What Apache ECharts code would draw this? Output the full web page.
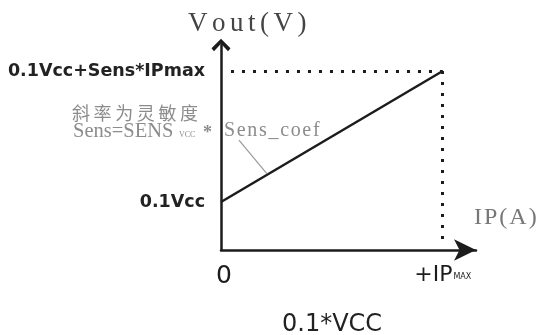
<!DOCTYPE html>
<html>
<head>
<meta charset="utf-8">
<script src="https://cdn.jsdelivr.net/npm/echarts@6/dist/echarts.min.js"></script>
<style>html,body{margin:0;padding:0;background:#fff}#c{width:545px;height:335px}</style>
</head>
<body>
<div id="c"></div>
<script>
// ---- data (normalised units: IP in units of IPmax, Vout relative to top level) ----
const ipValues = [0, 1];
const voutValues = [0.268, 1];
const xTickValues = [0, 1];
const xTickLabels = ['{z|0}', '+IP{s|MAX}'];
const yTickValues = [0.268, 1];
const yTickLabels = ['0.1Vcc', '0.1Vcc+Sens*IPmax'];
const guideHoriz = [[0.045, 1], [1, 1]];
const guideVert = [[1, 1], [1, 0.056]];
const pointerLine = [[0.081, 0.614], [0.2075, 0.425]];
const xMax = 1.15;
const yMax = 1.145;

const chevron = 'path://M9.5,0 L19,9.5 L16.5,12.5 L9.5,5 L2.5,12.5 L0,9.5 Z';
const hs = '\u200A';

const chart = echarts.init(document.getElementById('c'));
chart.setOption({
  animation: false,
  backgroundColor: '#fff',
  title: {
    text: '0.1*VCC', left: 277, top: 308,
    textStyle: { fontFamily: 'DejaVu Sans', fontSize: 24, fontWeight: 'normal', color: '#222' }
  },
  grid: { left: 221, right: 69, top: 45, bottom: 85, containLabel: false, outerBoundsMode: 'none' },
  xAxis: {
    type: 'value', min: 0, max: xMax,
    splitLine: { show: false },
    axisTick: { show: false },
    axisLine: { lineStyle: { color: '#1c1c1c', width: 2.5 }, symbol: ['none', 'arrow'], symbolSize: [16, 22], onZero: false },
    axisLabel: {
      customValues: xTickValues,
      formatter: function (v) { return xTickLabels[xTickValues.indexOf(v)]; },
      margin: 14,
      fontFamily: 'DejaVu Sans', fontSize: 22, color: '#1c1c1c',
      rich: {
        z: { fontFamily: 'DejaVu Sans', fontSize: 25, color: '#1c1c1c', padding: [0, 0, 0, 6] },
        s: { fontFamily: 'DejaVu Sans', fontSize: 8, color: '#1c1c1c', verticalAlign: 'bottom', padding: [0, 0, 5, 1] }
      }
    }
  },
  yAxis: {
    type: 'value', min: 0, max: yMax,
    splitLine: { show: false },
    axisTick: { show: false },
    axisLine: { show: true, lineStyle: { color: '#1c1c1c', width: 2.5 }, symbol: ['none', chevron], symbolSize: [19, 13], onZero: false },
    axisLabel: {
      customValues: yTickValues,
      formatter: function (v) { return yTickLabels[yTickValues.indexOf(v)]; },
      margin: 16,
      fontFamily: 'DejaVu Sans', fontWeight: 'bold', fontSize: 17.5, color: '#222'
    }
  },
  series: [
    {
      type: 'line',
      data: ipValues.map((x, i) => [x, voutValues[i]]),
      symbol: 'none',
      lineStyle: { color: '#1c1c1c', width: 2.5 },
      markLine: {
        silent: true, symbol: 'none', label: { show: false },
        lineStyle: { color: '#1c1c1c', width: 3, type: [3, 8], cap: 'butt' },
        data: [
          [{ coord: guideHoriz[0] }, { coord: guideHoriz[1] }],
          [{ coord: guideVert[0] }, { coord: guideVert[1] }]
        ]
      }
    },
    {
      type: 'line', data: [], symbol: 'none',
      markLine: {
        silent: true, symbol: 'none', label: { show: false },
        lineStyle: { color: '#9a9a9a', width: 1.2, type: 'solid' },
        data: [[{ coord: pointerLine[0] }, { coord: pointerLine[1] }]]
      }
    }
  ],
  graphic: [
    { type: 'text', left: 188, top: 10, style: { text: ['V','o','u','t','(','V',')'].join(hs + hs), font: '27px "Liberation Serif"', fill: '#444' } },
    { type: 'text', left: 474, top: 206, style: { text: ['I','P','(','A',')'].join(hs), font: '24px "Liberation Serif"', fill: '#777' } },
    { type: 'text', left: 72, top: 104, style: { text: '斜\u2009率\u2009为\u2009灵\u2009敏\u2009度', font: '18px "Noto Sans CJK SC"', fill: '#8c8c8c' } },
    { type: 'text', left: 73, top: 121, style: { text: 'Sens=SENS', font: '20.5px "Liberation Serif"', fill: '#8c8c8c' } },
    { type: 'text', left: 179, top: 131, style: { text: 'VCC', font: '8px "Liberation Serif"', fill: '#8c8c8c' } },
    { type: 'text', left: 203, top: 124, style: { text: '*', font: 'bold 18px "Liberation Serif"', fill: '#8c8c8c' } },
    { type: 'text', left: 224, top: 121, style: { text: ['S','e','n','s','_','c','o','e','f'].join(hs), font: '20px "Liberation Serif"', fill: '#8c8c8c' } }
  ]
});
</script>
</body>
</html>
